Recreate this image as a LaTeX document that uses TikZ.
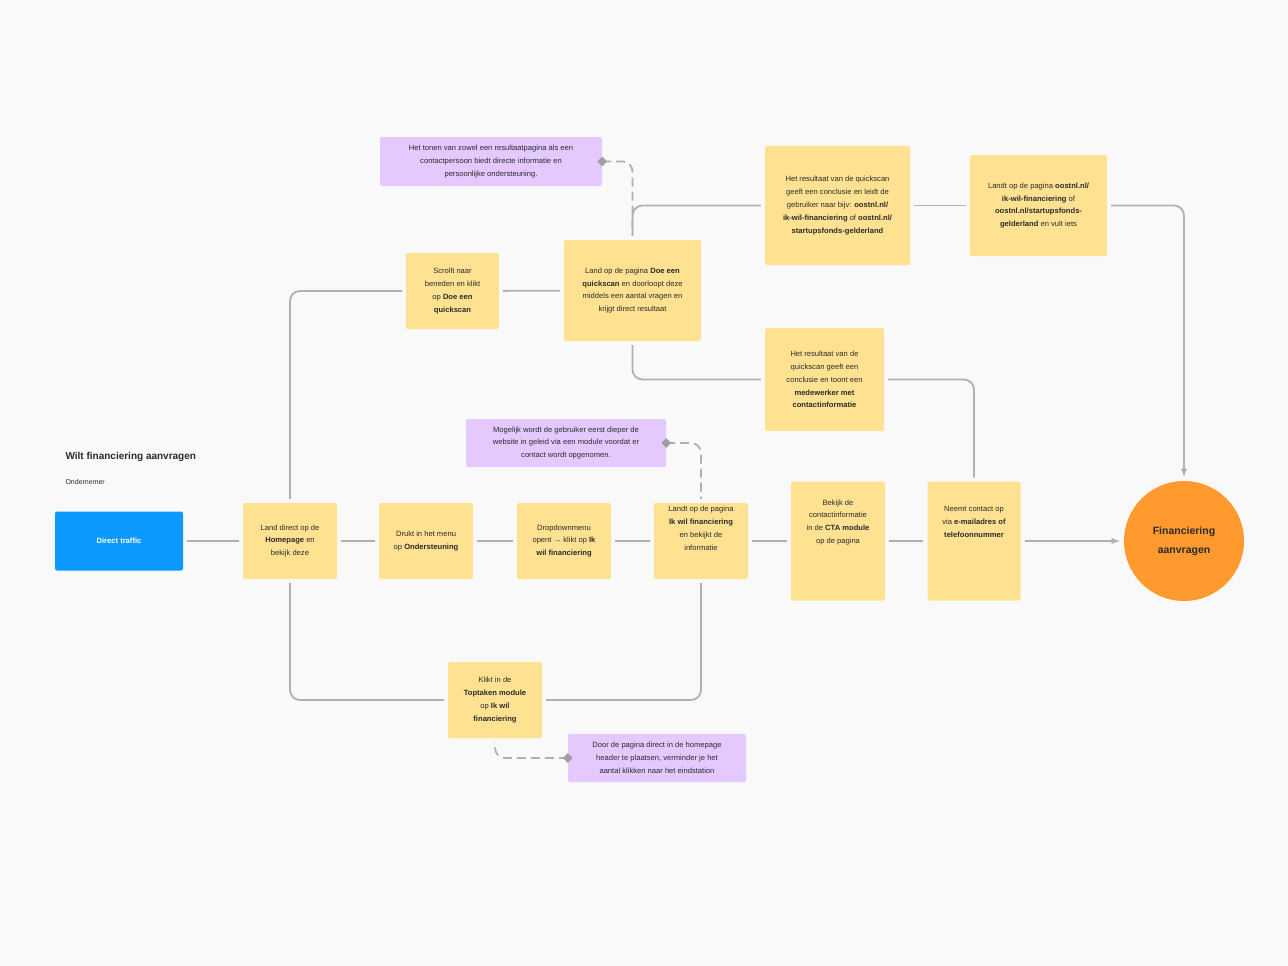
\documentclass[tikz,border=0pt]{standalone}
\usepackage{fontspec}
\setmainfont{Liberation Sans}
\usetikzlibrary{shapes.geometric}
\definecolor{bg}{HTML}{F9F9F9}
\definecolor{yel}{HTML}{FFE291}
\definecolor{pur}{HTML}{E3C9FF}
\definecolor{blu}{HTML}{0D99FF}
\definecolor{org}{HTML}{FF9A2E}
\definecolor{ln}{HTML}{B0B0B0}
\definecolor{txt}{HTML}{2A2A2A}
\begin{document}
\begin{tikzpicture}[x=1pt,y=-1pt,
  box/.style={fill=yel,rounded corners=2pt,align=center,inner sep=0pt,text=txt,font=\fontsize{7.6}{12.8}\selectfont},
  note/.style={fill=pur,rounded corners=2pt,align=center,inner sep=0pt,text=txt,font=\fontsize{7.6}{12.8}\selectfont},
  conn/.style={draw=ln,line width=1.8pt,rounded corners=10pt,shorten <=4pt,shorten >=4pt},
  dconn/.style={draw=ln,line width=1.8pt,rounded corners=10pt,dash pattern=on 9pt off 5pt},
  dia/.style={diamond,fill=gray!75,inner sep=0pt,minimum size=10pt}]
\useasboundingbox[fill=bg] (0,0) rectangle (1288,966);

\node[anchor=west,font=\bfseries\fontsize{10}{12}\selectfont,text=txt] (title) at (62,457) {Wilt financiering aanvragen};
\node[anchor=west,font=\fontsize{7}{9}\selectfont,text=txt] (sub) at (62,482) {Ondernemer};

\node[fill=blu,rounded corners=2pt,minimum width=128pt,minimum height=59pt,text=white,font=\bfseries\fontsize{7.6}{10}\selectfont] (dt) at (119,541) {Direct traffic};

\node[box,minimum width=94pt,minimum height=76pt] (hp) at (290,541) {Land direct op de\\\textbf{Homepage} en\\bekijk deze};
\node[box,minimum width=94pt,minimum height=76pt] (od) at (426,541) {Drukt in het menu\\op \textbf{Ondersteuning}};
\node[box,minimum width=94pt,minimum height=76pt] (dd) at (564,541) {Dropdownmenu\\opent → klikt op \textbf{Ik}\\\textbf{wil financiering}};
\node[box,minimum width=94pt,minimum height=76pt] (ik) at (701,541) {Landt op de pagina\\\textbf{Ik wil financiering}\\en bekijkt de\\informatie\\[13pt]};
\node[box,minimum width=94pt,minimum height=119pt] (cta) at (838,541) {Bekijk de\\contactinformatie\\in de \textbf{CTA module}\\op de pagina\\[26pt]};
\node[box,minimum width=93pt,minimum height=119pt] (nc) at (974,541) {Neemt contact op\\via \textbf{e-mailadres of}\\\textbf{telefoonnummer}\\[26pt]};
\node[circle,fill=org,minimum size=120pt,inner sep=0pt,align=center,text=txt,font=\bfseries\fontsize{10.5}{19}\selectfont] (fin) at (1184,541) {Financiering\\aanvragen};

\node[box,minimum width=94pt,minimum height=76pt] (tt) at (495,700) {Klikt in de\\\textbf{Toptaken module}\\op \textbf{Ik wil}\\\textbf{financiering}};
\node[box,minimum width=93pt,minimum height=76pt] (sc) at (452.5,291) {Scrollt naar\\beneden en klikt\\op \textbf{Doe een}\\\textbf{quickscan}};
\node[box,minimum width=137pt,minimum height=101pt] (dq) at (632.5,290.5) {Land op de pagina \textbf{Doe een}\\\textbf{quickscan} en doorloopt deze\\middels een aantal vragen en\\krijgt direct resultaat};
\node[box,minimum width=145pt,minimum height=119pt] (r1) at (837.5,205.5) {Het resultaat van de quickscan\\geeft een conclusie en leidt de\\gebruiker naar bijv: \textbf{oostnl.nl/}\\\textbf{ik-wil-financiering} of \textbf{oostnl.nl/}\\\textbf{startupsfonds-gelderland}};
\node[box,minimum width=137pt,minimum height=101pt] (la) at (1038.5,205.5) {Landt op de pagina \textbf{oostnl.nl/}\\\textbf{ik-wil-financiering} of\\\textbf{oostnl.nl/startupsfonds-}\\\textbf{gelderland} en vult iets};
\node[box,minimum width=119pt,minimum height=103pt] (r2) at (824.5,379.5) {Het resultaat van de\\quickscan geeft een\\conclusie en toont een\\\textbf{medewerker met}\\\textbf{contactinformatie}};

\node[note,minimum width=222pt,minimum height=49pt] (p1) at (491,161.5) {Het tonen van zowel een resultaatpagina als een\\contactpersoon biedt directe informatie en\\persoonlijke ondersteuning.};
\node[note,minimum width=200pt,minimum height=48pt] (p2) at (566,443) {Mogelijk wordt de gebruiker eerst dieper de\\website in geleid via een module voordat er\\contact wordt opgenomen.};
\node[note,minimum width=178pt,minimum height=48pt] (p3) at (657,758) {Door de pagina direct in de homepage\\header te plaatsen, verminder je het\\aantal klikken naar het eindstation};

% connectors
\draw[conn] (dt) -- (hp);
\draw[conn] (hp) -- (od);
\draw[conn] (od) -- (dd);
\draw[conn] (dd) -- (ik);
\draw[conn] (ik) -- (cta);
\draw[conn] (cta) -- (nc);
\draw[conn,-latex] (nc) -- (fin);
\draw[conn] (hp.north) |- (sc.west);
\draw[conn] (sc) -- (dq);
\draw[conn] (dq.north) |- (r1.west);
\draw[conn] (r1) -- (la);
\draw[conn,-latex] (la.east) -| (fin.north);
\draw[conn] (dq.south) |- (r2.west);
\draw[conn] (r2.east) -| (nc.north);
\draw[conn] (hp.south) |- (tt.west);
\draw[conn] (tt.east) -| (ik.south);

% dashed annotations
\draw[dconn,shorten >=4pt] (p1.east) -| (dq.north);
\draw[dconn,shorten >=4pt] (p2.east) -| (ik.north);
\draw[dconn,shorten >=4pt] (p3.west) -| (tt.south);
\node[dia] (d1) at (p1.east) {};
\node[dia] (d2) at (p2.east) {};
\node[dia] (d3) at (p3.west) {};
\end{tikzpicture}
\end{document}
